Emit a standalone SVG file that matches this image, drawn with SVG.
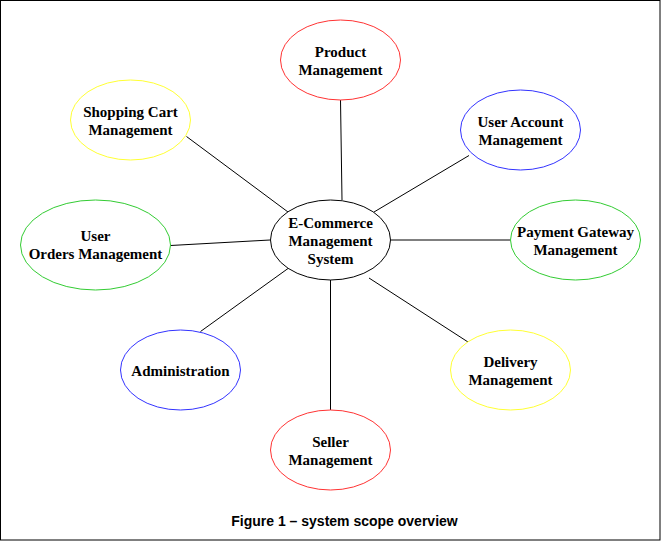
<svg xmlns="http://www.w3.org/2000/svg" width="661" height="541" viewBox="0 0 661 541">
<style>
.n{fill:#fff;stroke-width:1}
.t{font-family:"Liberation Serif","Times New Roman",serif;font-weight:bold;font-size:15px;fill:#000;text-anchor:middle}
.c line{stroke:#000;stroke-width:1}
.red{stroke:#FF3333}.yel{stroke:#FFFF33}.blu{stroke:#3333FF}.grn{stroke:#33CC33}.blk{stroke:#000}
</style>
<rect x="0.5" y="0.5" width="659.5" height="539.5" fill="#fff" stroke="#000" stroke-width="1"/>
<g id="connectors" class="c">
<line x1="340.5" y1="100" x2="342" y2="200"/>
<line x1="186.5" y1="136.5" x2="288" y2="212"/>
<line x1="469" y1="155.5" x2="374" y2="212"/>
<line x1="170.5" y1="245.5" x2="270" y2="240"/>
<line x1="391" y1="240" x2="510" y2="240"/>
<line x1="288" y1="268.5" x2="200.5" y2="331.5"/>
<line x1="330.5" y1="280" x2="330.5" y2="410"/>
<line x1="369" y1="278" x2="468" y2="342"/>
</g>
<g id="center">
<ellipse class="n blk" cx="330.5" cy="240" rx="60" ry="40"/>
<text class="t" x="330.5" y="228">E-Commerce</text>
<text class="t" x="330.5" y="246">Management</text>
<text class="t" x="330.5" y="263.5">System</text>
</g>
<g id="product">
<ellipse class="n red" cx="340.5" cy="60" rx="60" ry="40"/>
<text class="t" x="340.5" y="57">Product</text>
<text class="t" x="340.5" y="75">Management</text>
</g>
<g id="shopping-cart">
<ellipse class="n yel" cx="130.5" cy="120" rx="60" ry="40"/>
<text class="t" x="130.5" y="117">Shopping Cart</text>
<text class="t" x="130.5" y="135">Management</text>
</g>
<g id="user-account">
<ellipse class="n blu" cx="520.5" cy="130" rx="60" ry="40"/>
<text class="t" x="520.5" y="127">User Account</text>
<text class="t" x="520.5" y="145">Management</text>
</g>
<g id="user-orders">
<ellipse class="n grn" cx="95.5" cy="245" rx="75" ry="45"/>
<text class="t" x="95.5" y="240.5">User</text>
<text class="t" x="95.5" y="258.5">Orders Management</text>
</g>
<g id="payment">
<ellipse class="n grn" cx="575.5" cy="240" rx="65" ry="40"/>
<text class="t" x="575.5" y="237">Payment Gateway</text>
<text class="t" x="575.5" y="255">Management</text>
</g>
<g id="administration">
<ellipse class="n blu" cx="180.5" cy="370" rx="60" ry="40"/>
<text class="t" x="180.5" y="375.5">Administration</text>
</g>
<g id="delivery">
<ellipse class="n yel" cx="510.5" cy="370" rx="60" ry="40"/>
<text class="t" x="510.5" y="367">Delivery</text>
<text class="t" x="510.5" y="385">Management</text>
</g>
<g id="seller">
<ellipse class="n red" cx="330.5" cy="450" rx="60" ry="40"/>
<text class="t" x="330.5" y="447">Seller</text>
<text class="t" x="330.5" y="465">Management</text>
</g>
<text x="344.5" y="526" font-family="Liberation Sans,Arial,sans-serif" font-weight="bold" font-size="14" text-anchor="middle" fill="#000">Figure 1 – system scope overview</text>
</svg>
